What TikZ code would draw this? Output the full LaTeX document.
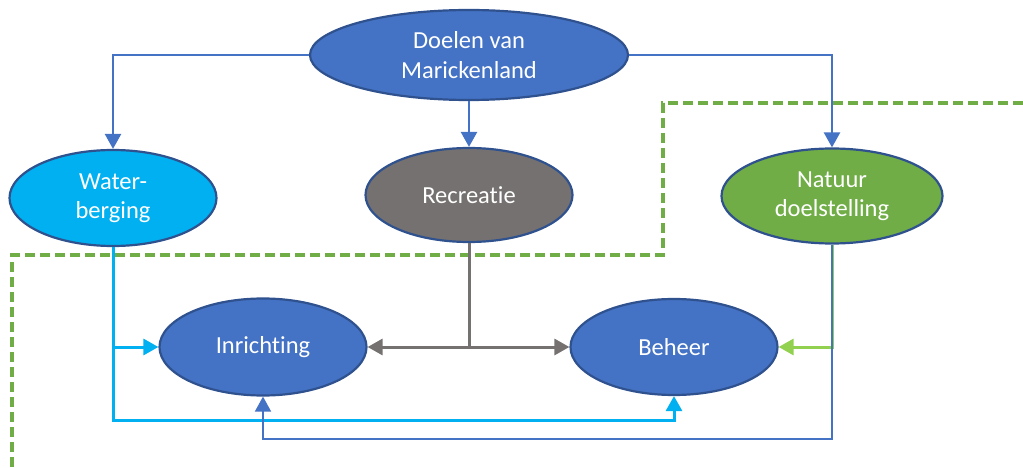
\documentclass[tikz,border=0pt]{standalone}
\usepackage{fontspec}
\setmainfont{Carlito}[Ligatures=NoCommon]
\usetikzlibrary{shapes.geometric,arrows.meta}
\definecolor{mblue}{HTML}{4472C4}
\definecolor{oblue}{HTML}{2F528F}
\definecolor{mcyan}{HTML}{00B0F0}
\definecolor{mgray}{HTML}{767171}
\definecolor{mgreen}{HTML}{70AD47}
\definecolor{lgreen}{HTML}{92D050}
\tikzset{
  oval/.style={ellipse, draw=oblue, line width=2.2pt, inner sep=0pt, text=white,
    align=center, font=\fontsize{24.5}{29.5}\selectfont},
  conn/.style={line width=2.5pt, -{Triangle[length=15pt,width=16pt]}},
  dashline/.style={draw=mgreen, line width=3.5pt, dash pattern=on 10pt off 5pt}
}
\begin{document}
\begin{tikzpicture}[x=1pt,y=-1pt]
\useasboundingbox (0,0) rectangle (1023,468);
% dashed boundary
\coordinate (d1) at (1023,103);
\coordinate (d2) at (663,103);
\coordinate (d3) at (663,255);
\coordinate (d4) at (12,255);
\coordinate (d5) at (12,470);
\draw[dashline] (d1) -- (d2) -- (d3) -- (d4) -- (d5);
% nodes
\node[oval, fill=mblue, minimum width=318pt, minimum height=90pt] (top) at (469,55) {Doelen van\\Marickenland};
\node[oval, fill=mcyan, minimum width=207pt, minimum height=96pt] (wat) at (113,198) {Water-\\berging};
\node[oval, fill=mgray, minimum width=207pt, minimum height=94pt] (rec) at (469,195) {Recreatie};
\node[oval, fill=mgreen, minimum width=221pt, minimum height=95pt] (nat) at (832,196) {Natuur\\doelstelling};
\node[oval, fill=mblue, minimum width=207pt, minimum height=97pt] (inr) at (263,347) {Inrichting};
\node[oval, fill=mblue, minimum width=207pt, minimum height=96pt] (beh) at (674,347) {Beheer};
\coordinate (cy) at (0,420);
\coordinate (by) at (0,439);
% connectors from top
\draw[conn, draw=mblue] (top.west) -| (wat.north);
\draw[conn, draw=mblue] (top.south) -- (rec.north);
\draw[conn, draw=mblue] (top.east) -| (nat.north);
% water-berging
\draw[conn, draw=mcyan, line width=3pt] (wat.south) |- (inr.west);
\draw[conn, draw=mcyan, line width=3pt] (wat.south) -- (wat.south |- cy) -| (beh.south);
% recreatie
\draw[conn, draw=mgray, line width=3pt] (rec.south) |- (inr.east);
\draw[conn, draw=mgray, line width=3pt] (rec.south) |- (beh.west);
% natuur
\draw[conn, draw=lgreen, line width=3pt] (nat.south) |- (beh.east);
\draw[conn, draw=mblue, line width=1.8pt] (nat.south) -- (nat.south |- by) -| (inr.south);
\end{tikzpicture}
\end{document}
